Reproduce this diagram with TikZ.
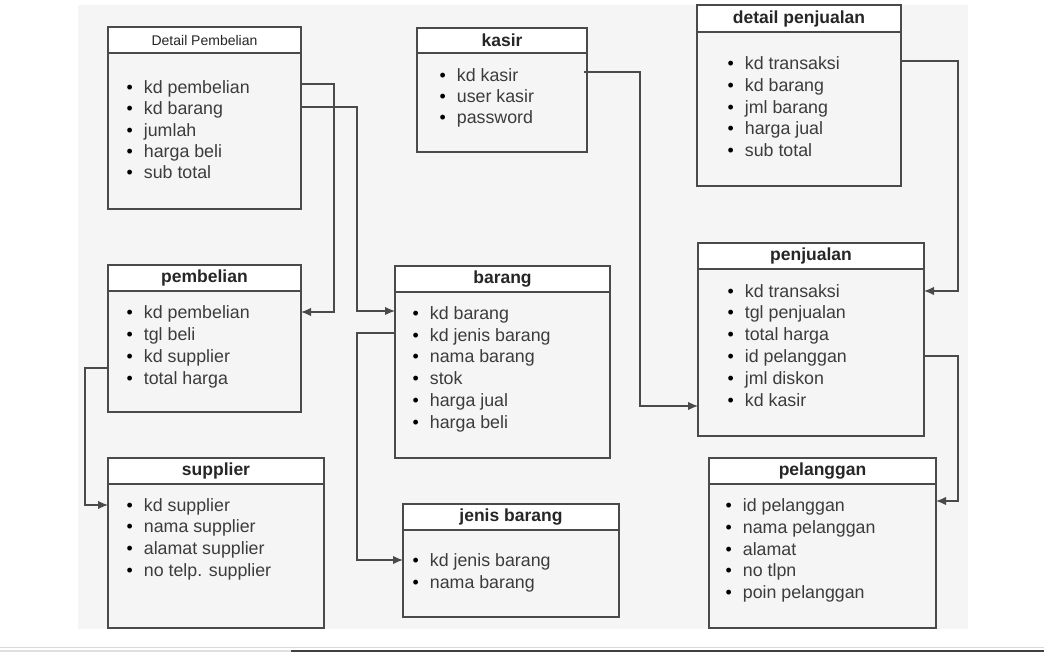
\documentclass[tikz,border=0pt]{standalone}
\usepackage{fontspec}
\setmainfont{Liberation Sans}
\usepackage{xcolor}
\usepackage{tikz}
\usetikzlibrary{arrows.meta,positioning}
\definecolor{bgc}{HTML}{F5F5F5}
\definecolor{linec}{HTML}{4A4A4A}
\definecolor{txtc}{HTML}{3C3C3C}
\newcommand{\itm}{\textcolor{black}{\textbullet}\hspace{11pt}}

\begin{document}
\begin{tikzpicture}[x=1pt,y=-1pt,>={Latex[length=10pt,width=8.5pt]},line width=1.3pt,
    head/.style={draw=linec,fill=white,minimum height=26pt,inner sep=0pt,outer sep=0pt,
        anchor=north west,font=\fontsize{17.5}{20}\selectfont\bfseries,text=black!85},
    body/.style={draw=linec,fill=bgc,inner sep=0pt,outer sep=0pt},
    item/.style={anchor=west,inner sep=0pt,text height=14.8pt,text depth=1.7pt,
        font=\fontsize{17.8}{20}\selectfont,text=txtc}]
    \useasboundingbox (0,0) rectangle (1044,652);
    \fill[bgc] (78,5) rectangle (968,629);
    \draw[black!15,line width=1pt] (0,647) -- (1044,647);
    \fill[black!12] (0,650) rectangle (291,652);
    \fill[black!75] (291,650) rectangle (1044,652);

    % Detail Pembelian
    \node[head,minimum width=193pt,font=\fontsize{14}{16}\selectfont] (dpbh) at (108,27) {Detail Pembelian};
    \node[body,minimum width=193pt,minimum height=156pt,below=0pt of dpbh] (dpb) {};
    \node[item] (dpb1) at (126,87) {\itm kd pembelian};
    \node[item] (dpb2) at (126,108) {\itm kd barang};
    \node[item] (dpb3) at (126,130) {\itm jumlah};
    \node[item] (dpb4) at (126,151) {\itm harga beli};
    \node[item] (dpb5) at (126,172) {\itm sub total};

    % kasir
    \node[head,minimum width=170pt,minimum height=25pt] (kash) at (417,28) {kasir};
    \node[body,minimum width=170pt,minimum height=99pt,below=0pt of kash] (kas) {};
    \node[item] (kas1) at (439,75) {\itm kd kasir};
    \node[item] (kas2) at (439,96) {\itm user kasir};
    \node[item] (kas3) at (439,117) {\itm password};

    % detail penjualan
    \node[head,minimum width=204pt,minimum height=27pt] (dpjh) at (697,5) {detail penjualan};
    \node[body,minimum width=204pt,minimum height=154pt,below=0pt of dpjh] (dpj) {};
    \node[item] (dpj1) at (727,63) {\itm kd transaksi};
    \node[item] (dpj2) at (727,85) {\itm kd barang};
    \node[item] (dpj3) at (727,107) {\itm jml barang};
    \node[item] (dpj4) at (727,128) {\itm harga jual};
    \node[item] (dpj5) at (727,150) {\itm sub total};

    % pembelian
    \node[head,minimum width=193pt] (pblh) at (108,265) {pembelian};
    \node[body,minimum width=193pt,minimum height=121pt,below=0pt of pblh] (pbl) {};
    \node[item] (pbl1) at (126,312) {\itm kd pembelian};
    \node[item] (pbl2) at (126,334) {\itm tgl beli};
    \node[item] (pbl3) at (126,356) {\itm kd supplier};
    \node[item] (pbl4) at (126,378) {\itm total harga};

    % barang
    \node[head,minimum width=215pt] (brgh) at (395,266) {barang};
    \node[body,minimum width=215pt,minimum height=166pt,below=0pt of brgh] (brg) {};
    \node[item] (brg1) at (412,313) {\itm kd barang};
    \node[item] (brg2) at (412,335) {\itm kd jenis barang};
    \node[item] (brg3) at (412,356) {\itm nama barang};
    \node[item] (brg4) at (412,378) {\itm stok};
    \node[item] (brg5) at (412,400) {\itm harga jual};
    \node[item] (brg6) at (412,422) {\itm harga beli};

    % penjualan
    \node[head,minimum width=226pt] (pjlh) at (698,243) {penjualan};
    \node[body,minimum width=226pt,minimum height=167pt,below=0pt of pjlh] (pjl) {};
    \node[item] (pjl1) at (727,291) {\itm kd transaksi};
    \node[item] (pjl2) at (727,312) {\itm tgl penjualan};
    \node[item] (pjl3) at (727,334) {\itm total harga};
    \node[item] (pjl4) at (727,356) {\itm id pelanggan};
    \node[item] (pjl5) at (727,378) {\itm jml diskon};
    \node[item] (pjl6) at (727,400) {\itm kd kasir};

    % supplier
    \node[head,minimum width=216pt] (suph) at (108,458) {supplier};
    \node[body,minimum width=216pt,minimum height=144pt,below=0pt of suph] (sup) {};
    \node[item] (sup1) at (126,505) {\itm kd supplier};
    \node[item] (sup2) at (126,526) {\itm nama supplier};
    \node[item] (sup3) at (126,548) {\itm alamat supplier};
    \node[item] (sup4) at (126,570) {\itm no telp. supplier};

    % jenis barang
    \node[head,minimum width=216pt] (jnsh) at (403,504) {jenis barang};
    \node[body,minimum width=216pt,minimum height=87pt,below=0pt of jnsh] (jns) {};
    \node[item] (jns1) at (412,560) {\itm kd jenis barang};
    \node[item] (jns2) at (412,582) {\itm nama barang};

    % pelanggan
    \node[head,minimum width=227pt] (plgh) at (709,458) {pelanggan};
    \node[body,minimum width=227pt,minimum height=144pt,below=0pt of plgh] (plg) {};
    \node[item] (plg1) at (725,505) {\itm id pelanggan};
    \node[item] (plg2) at (725,527) {\itm nama pelanggan};
    \node[item] (plg3) at (725,549) {\itm alamat};
    \node[item] (plg4) at (725,570) {\itm no tlpn};
    \node[item] (plg5) at (725,592) {\itm poin pelanggan};

    % relasi
    \draw[->,draw=linec] ([yshift=3pt]dpb.east |- dpb1) -- ++(33,0) |- (pbl.east |- pbl1);
    \draw[->,draw=linec] ([yshift=1pt]dpb.east |- dpb2) -- ++(56,0) |- ([yshift=2pt]brg.west |- brg1);
    \draw[->,draw=linec] ([yshift=2pt]brg.west |- brg2) -- ++(-38,0) |- (jns.west |- jns1);
    \draw[->,draw=linec] ([yshift=-12pt]pbl.west |- pbl3) -- ++(-23,0) |- (sup.west |- sup1);
    \draw[->,draw=linec] ([xshift=-3pt,yshift=3pt]kas.east |- kas1) -- ++(56,0) |- ([yshift=-6pt]pjl.west |- pjl6);
    \draw[->,draw=linec] ([yshift=2pt]dpj.east |- dpj1) -- ++(57,0) |- (pjl.east |- pjl1);
    \draw[->,draw=linec] (pjl.east |- pjl4) -- ++(34,0) |- ([yshift=4pt]plg.east |- plg1);
\end{tikzpicture}
\end{document}
